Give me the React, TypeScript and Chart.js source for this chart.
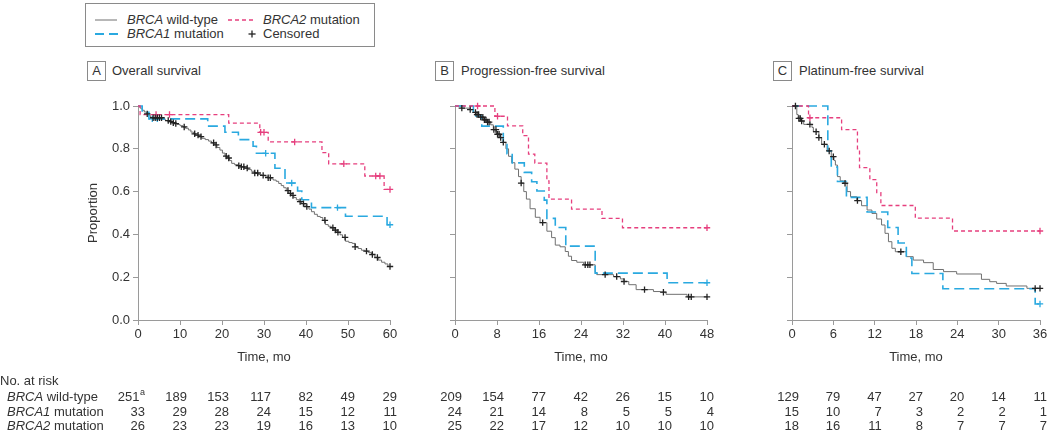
import React, { useEffect, useRef } from 'react';
import { Chart, registerables } from 'chart.js';

Chart.register(...registerables);

type Pt = [number, number];

// ---------- Panel A: Overall survival ----------
const osTimes = [0, 10, 20, 30, 40, 50, 60];
const osWild: Pt[] = [
  [0, 1], [0.5, 0.99], [1, 0.98], [1.5, 0.972], [2, 0.963], [2.5, 0.955], [3, 0.945], [5.8, 0.938],
  [6.5, 0.932], [7.3, 0.927], [8, 0.922], [8.7, 0.918], [9.3, 0.914], [10, 0.908], [10.7, 0.902],
  [11.3, 0.896], [12, 0.888], [12.6, 0.878], [13.2, 0.87], [13.7, 0.864], [14.5, 0.857], [15.2, 0.849],
  [16, 0.843], [16.8, 0.836], [17.5, 0.828], [18.3, 0.818], [18.8, 0.806], [19.5, 0.794], [20.1, 0.78],
  [20.7, 0.766], [21.3, 0.757], [21.8, 0.745], [22.3, 0.732], [23, 0.726], [23.8, 0.721], [24.6, 0.716],
  [25.4, 0.71], [26.2, 0.703], [27, 0.695], [27.8, 0.687], [28.6, 0.68], [29.4, 0.676], [30.2, 0.672],
  [31, 0.665], [31.6, 0.66], [32.2, 0.654], [32.9, 0.648], [33.5, 0.638], [34.1, 0.628], [34.7, 0.618],
  [35.3, 0.605], [35.9, 0.592], [36.5, 0.582], [37.1, 0.572], [37.7, 0.562], [38.3, 0.553], [38.9, 0.544],
  [39.5, 0.537], [40.1, 0.53], [40.7, 0.518], [41.3, 0.506], [42, 0.494], [42.7, 0.484], [43.4, 0.479],
  [44, 0.466], [44.6, 0.446], [45.3, 0.438], [46, 0.431], [46.7, 0.42], [47.4, 0.41], [48.1, 0.398],
  [48.7, 0.386], [49.4, 0.368], [50.2, 0.362], [51, 0.358], [51.7, 0.342], [52.4, 0.334], [53.2, 0.326],
  [54, 0.322], [54.8, 0.316], [55.6, 0.306], [56.4, 0.292], [57.2, 0.28], [58, 0.27], [58.8, 0.262],
  [59.5, 0.25], [60, 0.25],
];
const osWildCensor = [
  2.2, 3.6, 4.1, 4.6, 5.1, 5.6, 7.2, 7.8, 8.4, 9.0, 11.0, 13.5, 14.3, 15.0, 18.0, 18.6, 21.0, 21.6,
  24.0, 24.6, 25.2, 26.0, 27.8, 28.5, 29.8, 31.0, 31.5, 35.7, 36.3, 36.9, 38.6, 39.4, 40.2, 44.5,
  46.4, 47.0, 47.6, 49.3, 51.7, 54.4, 55.8, 57.0, 60,
];
const osBrca1: Pt[] = [
  [0, 1], [1, 0.97], [2.6, 0.94], [16.6, 0.906], [20.7, 0.877], [23.9, 0.843], [27.4, 0.812],
  [28.2, 0.779], [32.6, 0.709], [35, 0.64], [38, 0.603], [39, 0.562], [41.3, 0.525], [49.4, 0.485],
  [59.3, 0.445], [60, 0.445],
];
const osBrca1Censor = [3.4, 4.6, 30.4, 36.6, 47.5, 60];
const osBrca2: Pt[] = [
  [0, 1], [0.5, 0.96], [21.6, 0.92], [29, 0.877], [31, 0.832], [43.8, 0.782], [45.4, 0.73],
  [54, 0.673], [58.6, 0.61], [60, 0.61],
];
const osBrca2Censor = [4.3, 7.5, 29.2, 30, 37.3, 49, 56.6, 57.6, 60];
const osRiskWild = [251, 189, 153, 117, 82, 49, 29];
const osRiskBrca1 = [33, 29, 28, 24, 15, 12, 11];
const osRiskBrca2 = [26, 23, 23, 19, 16, 13, 10];

// ---------- Panel B: Progression-free survival ----------
const pfsTimes = [0, 8, 16, 24, 32, 40, 48];
const pfsWild: Pt[] = [
  [0, 1], [1.2, 0.99], [2.9, 0.983], [3.5, 0.97], [4.2, 0.96], [4.9, 0.948], [5.5, 0.935], [6.2, 0.925],
  [6.8, 0.912], [7.3, 0.89], [7.9, 0.868], [8.6, 0.852], [9.2, 0.83], [9.7, 0.8], [10.2, 0.765],
  [10.8, 0.735], [11.4, 0.705], [12.1, 0.67], [12.6, 0.64], [13.1, 0.6], [13.6, 0.565], [14.3, 0.52],
  [15.3, 0.48], [16.2, 0.455], [17.5, 0.415], [18.4, 0.385], [19.1, 0.35], [20, 0.342], [21, 0.32],
  [21.6, 0.298], [22.2, 0.278], [23.2, 0.27], [24.5, 0.258], [26.7, 0.222], [27, 0.212], [30.2, 0.203],
  [31.5, 0.192], [32.2, 0.18], [33.1, 0.165], [34.5, 0.142], [37.8, 0.133], [39.1, 0.13], [40.2, 0.12],
  [44.2, 0.108], [48, 0.108],
];
const pfsWildCensor = [
  1.3, 2.9, 3.9, 4.2, 4.5, 4.9, 5.3, 5.6, 5.9, 6.2, 6.5, 7.4, 7.8, 8.1, 8.4, 8.7, 9.2, 12.6, 16.7,
  24.8, 25.3, 25.7, 28.6, 30.8, 32.2, 36.1, 39.7, 44.5, 45, 48,
];
const pfsBrca1: Pt[] = [
  [0, 1], [3.5, 0.953], [5.1, 0.906], [9.2, 0.82], [9.9, 0.777], [10.9, 0.734], [13.2, 0.69],
  [14.6, 0.646], [15.6, 0.603], [17, 0.56], [17.5, 0.475], [19.1, 0.432], [21.1, 0.345], [26.7, 0.219],
  [40.4, 0.174], [48, 0.174],
];
const pfsBrca1Censor = [48];
const pfsBrca2: Pt[] = [
  [0, 1], [7.6, 0.952], [10, 0.907], [12.9, 0.862], [14, 0.775], [15.2, 0.733], [17.5, 0.65],
  [17.9, 0.565], [22.2, 0.518], [28, 0.475], [31.9, 0.431], [48, 0.431],
];
const pfsBrca2Censor = [4.3, 8.1, 48];
const pfsRiskWild = [209, 154, 77, 42, 26, 15, 10];
const pfsRiskBrca1 = [24, 21, 14, 8, 5, 5, 4];
const pfsRiskBrca2 = [25, 22, 17, 12, 10, 10, 10];

// ---------- Panel C: Platinum-free survival ----------
const pfiTimes = [0, 6, 12, 18, 24, 30, 36];
const pfiWild: Pt[] = [
  [0, 1], [0.7, 0.96], [0.9, 0.942], [1.3, 0.93], [1.7, 0.914], [2.9, 0.9], [3.1, 0.88], [3.9, 0.852],
  [4.3, 0.821], [5.1, 0.79], [5.7, 0.763], [6.1, 0.745], [6.3, 0.724], [6.6, 0.67], [7, 0.65],
  [7.5, 0.639], [8, 0.6], [8.5, 0.576], [9.4, 0.558], [10.1, 0.534], [10.9, 0.514], [11.6, 0.498],
  [12.3, 0.472], [13, 0.444], [13.5, 0.405], [14, 0.366], [14.5, 0.335], [15, 0.319], [16.6, 0.296],
  [17.6, 0.28], [19.1, 0.268], [20.5, 0.236], [22, 0.226], [23.9, 0.215], [27.5, 0.19], [28.7, 0.179],
  [29.7, 0.171], [31.1, 0.159], [34.1, 0.148], [36, 0.148],
];
const pfiWildCensor = [0.5, 1.0, 1.2, 1.4, 2.6, 3.5, 3.9, 4.7, 5.4, 6.0, 7.7, 9.5, 15.8, 35.3, 36];
const pfiBrca1: Pt[] = [
  [0, 1], [5.2, 0.79], [5.7, 0.715], [6.6, 0.647], [7.9, 0.573], [10.9, 0.505], [13.9, 0.432],
  [15.4, 0.36], [16.6, 0.29], [17.4, 0.217], [21.9, 0.146], [35.3, 0.075], [36, 0.075],
];
const pfiBrca1Censor = [36];
const pfiBrca2: Pt[] = [
  [0, 1], [2.4, 0.945], [7.2, 0.89], [9.5, 0.8], [9.8, 0.712], [11.3, 0.656], [12.3, 0.595],
  [12.9, 0.535], [17.9, 0.476], [23.3, 0.416], [36, 0.416],
];
const pfiBrca2Censor = [2.6, 36];
const pfiRiskWild = [129, 79, 47, 27, 20, 14, 11];
const pfiRiskBrca1 = [15, 10, 7, 3, 2, 2, 1];
const pfiRiskBrca2 = [18, 16, 11, 8, 7, 7, 7];

// ---------- styling ----------
const FONT = "'Liberation Sans', Arial, Helvetica, sans-serif";
const TEXT = '#333333';
const AXIS = '#9a9a9a';
const WILD = '#707070';
const CENSOR = '#222222';
const BLUE = '#2aa9e0';
const PINK = '#e63f7e';

function survAt(curve: Pt[], t: number): number {
  let s = curve[0][1];
  for (const [x, y] of curve) if (x <= t) s = y;
  return s;
}

const riskPlugin = {
  id: 'riskTable',
  afterDraw(chart: any, _args: any, opts: any) {
    if (!opts || !opts.rows) return;
    const ctx = chart.ctx as CanvasRenderingContext2D;
    const xs = chart.scales.x;
    const rowY = [342, 357, 371];
    ctx.save();
    ctx.fillStyle = TEXT;
    ctx.textBaseline = 'middle';
    if (opts.labels) {
      ctx.font = `13px ${FONT}`;
      ctx.textAlign = 'left';
      ctx.fillText('No. at risk', 0, 326);
      const lab: [string, string][] = [['BRCA', ' wild-type'], ['BRCA1', ' mutation'], ['BRCA2', ' mutation']];
      lab.forEach(([it, rest], r) => {
        ctx.font = `italic 13px ${FONT}`;
        ctx.fillText(it, 7, rowY[r]);
        const w = ctx.measureText(it).width;
        ctx.font = `13px ${FONT}`;
        ctx.fillText(rest, 7 + w, rowY[r]);
      });
    }
    ctx.textAlign = 'right';
    (opts.rows as number[][]).forEach((row, r) => {
      row.forEach((v, i) => {
        const x = xs.getPixelForValue(opts.times[i]) + 7;
        if (r === 0 && i === 0 && opts.sup) {
          ctx.font = `9px ${FONT}`;
          ctx.fillText(opts.sup, x, rowY[r] - 4);
          const sw = ctx.measureText(opts.sup).width;
          ctx.font = `13px ${FONT}`;
          ctx.fillText(String(v), x - sw - 0.5, rowY[r]);
        } else {
          ctx.font = `13px ${FONT}`;
          ctx.fillText(String(v), x, rowY[r]);
        }
      });
    });
    ctx.restore();
  },
};

interface PanelDef {
  max: number;
  step: number;
  wild: Pt[];
  wildC: number[];
  b1: Pt[];
  b1C: number[];
  b2: Pt[];
  b2C: number[];
  times: number[];
  rows: number[][];
  showY: boolean;
  padL: number;
  padR: number;
  yWidth: number;
  labels: boolean;
  sup?: string;
}

function lineDs(curve: Pt[], color: string, width: number, dash: number[]) {
  return {
    data: curve.map(([x, y]) => ({ x, y })),
    borderColor: color,
    borderWidth: width,
    borderDash: dash,
    stepped: true,
    pointRadius: 0,
    fill: false,
    clip: false,
  };
}

function censorDs(curve: Pt[], times: number[], color: string) {
  return {
    data: times.map((t) => ({ x: t, y: survAt(curve, t) })),
    showLine: false,
    pointStyle: 'cross',
    pointRadius: 3.2,
    pointBorderWidth: 1.3,
    pointBorderColor: color,
    pointBackgroundColor: color,
    borderColor: color,
    clip: false,
  };
}

function makeConfig(p: PanelDef): any {
  const tickFont = { family: FONT, size: 13 };
  return {
    type: 'line',
    data: {
      datasets: [
        censorDs(p.wild, p.wildC, CENSOR),
        censorDs(p.b2, p.b2C, PINK),
        censorDs(p.b1, p.b1C, BLUE),
        lineDs(p.b2, PINK, 1.3, [4, 3]),
        lineDs(p.b1, BLUE, 1.6, [10, 5]),
        lineDs(p.wild, WILD, 1, []),
      ],
    },
    options: {
      responsive: false,
      animation: false,
      layout: { padding: { left: p.padL, right: p.padR, top: 51, bottom: 67 } },
      plugins: {
        legend: { display: false },
        tooltip: { enabled: false },
        riskTable: { rows: p.rows, times: p.times, labels: p.labels, sup: p.sup },
      },
      scales: {
        x: {
          type: 'linear',
          min: 0,
          max: p.max,
          ticks: { stepSize: p.step, color: TEXT, font: tickFont, padding: 2, maxRotation: 0, autoSkip: false },
          grid: { display: true, drawOnChartArea: false, drawTicks: true, tickLength: 5, color: AXIS },
          border: { display: true, color: AXIS },
          title: { display: true, text: 'Time, mo', color: TEXT, font: tickFont, padding: { top: 0, bottom: 0 } },
          afterFit(s: any) {
            s.height = 45;
          },
        },
        y: {
          type: 'linear',
          min: 0,
          max: 1,
          ticks: {
            stepSize: 0.2,
            display: p.showY,
            color: TEXT,
            font: tickFont,
            padding: 3,
            callback: (v: any) => Number(v).toFixed(1),
          },
          grid: { display: true, drawOnChartArea: false, drawTicks: true, tickLength: 5, color: AXIS },
          border: { display: true, color: AXIS },
          title: {
            display: p.showY,
            text: 'Proportion',
            color: TEXT,
            font: tickFont,
            padding: { top: 6, bottom: 0 },
          },
          afterFit(s: any) {
            s.width = p.yWidth;
          },
        },
      },
    },
    plugins: [riskPlugin],
  };
}

const panels: { left: number; width: number; def: PanelDef }[] = [
  {
    left: 0,
    width: 400,
    def: {
      max: 60, step: 10, wild: osWild, wildC: osWildCensor, b1: osBrca1, b1C: osBrca1Censor,
      b2: osBrca2, b2C: osBrca2Censor, times: osTimes, rows: [osRiskWild, osRiskBrca1, osRiskBrca2],
      showY: true, padL: 80, padR: 10, yWidth: 58, labels: true, sup: 'a',
    },
  },
  {
    left: 400,
    width: 320,
    def: {
      max: 48, step: 8, wild: pfsWild, wildC: pfsWildCensor, b1: pfsBrca1, b1C: pfsBrca1Censor,
      b2: pfsBrca2, b2C: pfsBrca2Censor, times: pfsTimes, rows: [pfsRiskWild, pfsRiskBrca1, pfsRiskBrca2],
      showY: false, padL: 45, padR: 13, yWidth: 10, labels: false,
    },
  },
  {
    left: 720,
    width: 330,
    def: {
      max: 36, step: 6, wild: pfiWild, wildC: pfiWildCensor, b1: pfiBrca1, b1C: pfiBrca1Censor,
      b2: pfiBrca2, b2C: pfiBrca2Censor, times: pfiTimes, rows: [pfiRiskWild, pfiRiskBrca1, pfiRiskBrca2],
      showY: false, padL: 62, padR: 10, yWidth: 10, labels: false,
    },
  },
];

function Panel({ left, width, def }: { left: number; width: number; def: PanelDef }) {
  const ref = useRef<HTMLCanvasElement>(null);
  useEffect(() => {
    const chart = new Chart(ref.current as HTMLCanvasElement, makeConfig(def));
    return () => chart.destroy();
  }, []);
  return (
    <canvas
      ref={ref}
      width={width}
      height={377}
      style={{ position: 'absolute', left, top: 55, width, height: 377 }}
    />
  );
}

const panelTitles = [
  { letter: 'A', text: 'Overall survival', boxLeft: 87, textLeft: 112 },
  { letter: 'B', text: 'Progression-free survival', boxLeft: 435, textLeft: 461 },
  { letter: 'C', text: 'Platinum-free survival', boxLeft: 773, textLeft: 799 },
];

const textStyle: React.CSSProperties = {
  position: 'absolute',
  fontFamily: FONT,
  fontSize: 13,
  color: TEXT,
  lineHeight: '16px',
  whiteSpace: 'nowrap',
};

function Legend() {
  return (
    <>
      <div
        style={{
          position: 'absolute', left: 85, top: 3, width: 290, height: 44,
          border: '1px solid #8a8a8a', boxSizing: 'border-box',
        }}
      />
      <svg style={{ position: 'absolute', left: 95, top: 14 }} width={24} height={12}>
        <line x1={0} y1={6} x2={22} y2={6} stroke={WILD} strokeWidth={1} />
      </svg>
      <div style={{ ...textStyle, left: 127, top: 12 }}>
        <i>BRCA</i> wild-type
      </div>
      <svg style={{ position: 'absolute', left: 228, top: 14 }} width={28} height={12}>
        <line x1={0} y1={6} x2={26} y2={6} stroke={PINK} strokeWidth={1.3} strokeDasharray="4 3" />
      </svg>
      <div style={{ ...textStyle, left: 263, top: 12 }}>
        <i>BRCA2</i> mutation
      </div>
      <svg style={{ position: 'absolute', left: 95, top: 28 }} width={24} height={12}>
        <line x1={0} y1={6} x2={23} y2={6} stroke={BLUE} strokeWidth={1.8} strokeDasharray="9 5" />
      </svg>
      <div style={{ ...textStyle, left: 127, top: 26 }}>
        <i>BRCA1</i> mutation
      </div>
      <svg style={{ position: 'absolute', left: 248, top: 30 }} width={8} height={8}>
        <line x1={0.5} y1={4} x2={7.5} y2={4} stroke={CENSOR} strokeWidth={1.3} />
        <line x1={4} y1={0.5} x2={4} y2={7.5} stroke={CENSOR} strokeWidth={1.3} />
      </svg>
      <div style={{ ...textStyle, left: 263, top: 26 }}>Censored</div>
    </>
  );
}

export default function App() {
  return (
    <div style={{ position: 'absolute', left: 0, top: 0, width: 1050, height: 432, background: '#fff', overflow: 'hidden' }}>
      <Legend />
      {panelTitles.map((t) => (
        <React.Fragment key={t.letter}>
          <div
            style={{
              position: 'absolute', left: t.boxLeft, top: 61, width: 19, height: 20,
              border: '1px solid #8a8a8a', boxSizing: 'border-box', fontFamily: FONT, fontSize: 13,
              color: TEXT, textAlign: 'center', lineHeight: '18px',
            }}
          >
            {t.letter}
          </div>
          <div style={{ ...textStyle, left: t.textLeft, top: 63 }}>{t.text}</div>
        </React.Fragment>
      ))}
      {panels.map((p, i) => (
        <Panel key={i} left={p.left} width={p.width} def={p.def} />
      ))}
    </div>
  );
}
